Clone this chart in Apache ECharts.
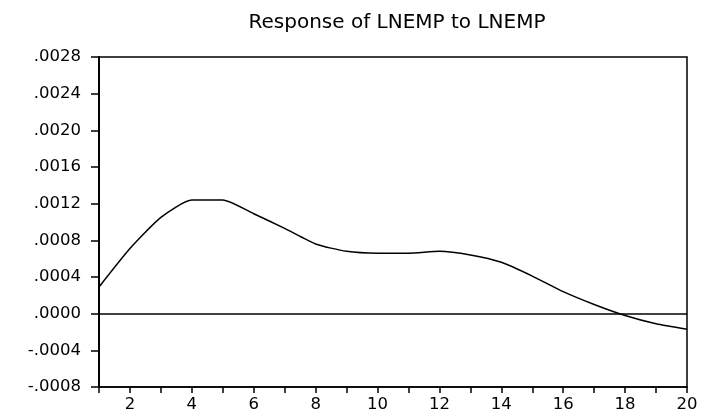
<!DOCTYPE html>
<html><head><meta charset="utf-8">
<script src="https://cdn.jsdelivr.net/npm/echarts@6/dist/echarts.min.js"></script>
<style>html,body{margin:0;padding:0;background:#fff}#c{width:704px;height:420px}</style>
</head><body><div id="c"></div>
<script>
var titleText = "Response of LNEMP to LNEMP";
var periods = [1,2,3,4,5,6,7,8,9,10,11,12,13,14,15,16,17,18,19,20];
var response = [0.00029,0.00071,0.00105,0.00124,0.00124,0.00109,0.00093,0.00076,0.00068,0.00066,0.00066,0.00068,0.00064,0.00056,0.00041,0.00024,0.00010,-0.00002,-0.00011,-0.00017];
var yMin = -0.0008, yMax = 0.0028, yStep = 0.0004;

function fmt(v){
  var s = Math.abs(v).toFixed(4).replace(/^0/, '');
  return (v < -1e-12 ? '-' : '') + s;
}
var chart = echarts.init(document.getElementById('c'), null, {renderer:'canvas'});
chart.setOption({
  animation:false,
  backgroundColor:'#fff',
  title:{text:titleText,left:392,top:8,textAlign:'center',
    textStyle:{fontFamily:'DejaVu Sans',fontSize:20,fontWeight:'normal',color:'#000'}},
  grid:{left:99,right:17,top:57,bottom:33,show:true,borderColor:'#000',borderWidth:1.5,backgroundColor:'transparent'},
  xAxis:{type:'category',data:periods,boundaryGap:false,
    axisLine:{onZero:false,lineStyle:{color:'#000',width:1.5}},
    axisTick:{show:true,interval:0,length:6,lineStyle:{color:'#000',width:1.5}},
    axisLabel:{interval:function(i){return i%2===1;},color:'#000',fontFamily:'DejaVu Sans',fontSize:16.5,margin:9},
    splitLine:{show:false}},
  yAxis:{type:'value',min:yMin,max:yMax,interval:yStep,
    axisLine:{show:true,lineStyle:{color:'#000',width:2}},
    axisTick:{show:true,length:8,lineStyle:{color:'#000',width:1.5}},
    axisLabel:{formatter:fmt,color:'#000',fontFamily:'DejaVu Sans',fontSize:16.5,margin:18},
    splitLine:{show:false}},
  series:[{type:'line',data:response,symbol:'none',smooth:0.2,
    lineStyle:{color:'#000',width:1.5},
    markLine:{silent:true,symbol:'none',label:{show:false},
      lineStyle:{color:'#000',width:1.5,type:'solid'},data:[{yAxis:0}]}}]
});
</script></body></html>
